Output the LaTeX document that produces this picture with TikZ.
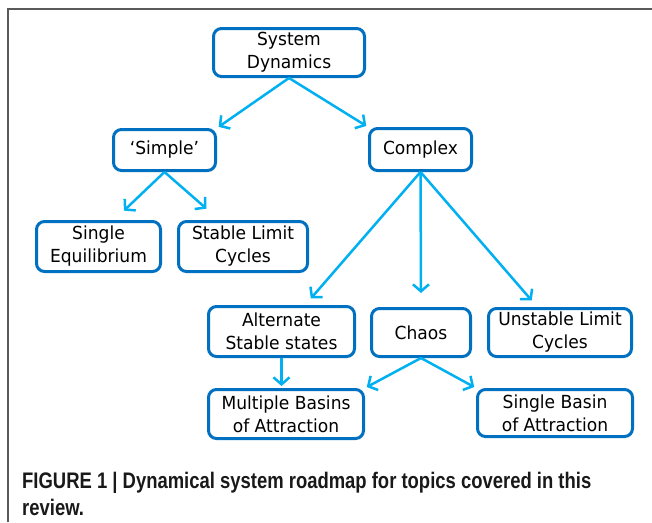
\documentclass[tikz,border=0pt]{standalone}
\usepackage{fontspec}
\setmainfont{DejaVu Sans}[FakeStretch=0.95]
\newfontfamily\capfont{Liberation Sans}[FakeStretch=0.82]
\usetikzlibrary{arrows.meta}
\definecolor{boxblue}{RGB}{0,112,192}
\definecolor{arrowblue}{RGB}{0,176,240}
\definecolor{framegray}{RGB}{90,90,90}

\begin{document}
\begin{tikzpicture}[x=1pt, y=-1pt,
		topic/.style={draw=boxblue, line width=3pt, rounded corners=8pt, fill=white, align=center, inner sep=0pt, font=\fontsize{18}{23}\selectfont},
		link/.style={draw=arrowblue, line width=2.5pt, -{Straight Barb[length=7pt,width=16pt]}, shorten >=2pt}]
		\useasboundingbox (0,0) rectangle (652,522);
		\draw[framegray, line width=1.5pt] (8,522) -- (8,9) -- (652,9);
		
		\node[topic, minimum width=151pt, minimum height=48pt] (sd) at (289,52.5) {System\\Dynamics};
		\node[topic, minimum width=102pt, minimum height=41pt] (simple) at (164.5,150) {‘Simple’};
		\node[topic, minimum width=102pt, minimum height=42pt] (complex) at (420.5,149.5) {Complex};
		\node[topic, minimum width=124pt, minimum height=50pt] (singleeq) at (98.5,246.5) {Single\\Equilibrium};
		\node[topic, minimum width=129pt, minimum height=50pt] (stablelc) at (243,246.5) {Stable Limit\\Cycles};
		\node[topic, minimum width=146pt, minimum height=50pt] (alternate) at (281.5,331.5) {Alternate\\Stable states};
		\node[topic, minimum width=99pt, minimum height=48pt] (chaos) at (421,332.5) {Chaos};
		\node[topic, minimum width=143pt, minimum height=48pt] (unstable) at (560,332.5) {Unstable Limit\\Cycles};
		\node[topic, minimum width=155pt, minimum height=49pt] (multiple) at (286,414) {Multiple Basins\\of Attraction};
		\node[topic, minimum width=155pt, minimum height=47pt] (singlebasin) at (555,413) {Single Basin\\of Attraction};
		
		\draw[link] (sd.south) -- (simple.north east);
		\draw[link] (sd.south) -- (complex.north west);
		\draw[link] (simple.south) -- ([xshift=24pt,yshift=8pt]singleeq.north);
		\draw[link] (simple.south) -- ([xshift=-35pt,yshift=10pt]stablelc.north);
		\draw[link] (complex.south) -- ([xshift=28pt,yshift=5pt]alternate.north);
		\draw[link] (complex.south) -- ([yshift=12pt]chaos.north);
		\draw[link] (complex.south) -- ([xshift=-27pt,yshift=5pt]unstable.north);
		\draw[link] (alternate.south) -- (alternate.south |- multiple.north);
		\draw[link] (chaos.south) -- (multiple.north east);
		\draw[link] (chaos.south) -- (singlebasin.north west);
		
		\node[anchor=base west, align=left, inner sep=0pt, text=black!90, font=\capfont\bfseries\fontsize{22.5}{27}\selectfont] (caption) at (22,515) {FIGURE 1 | Dynamical system roadmap for topics covered in this\\review.};
		
	\end{tikzpicture}
\end{document}
